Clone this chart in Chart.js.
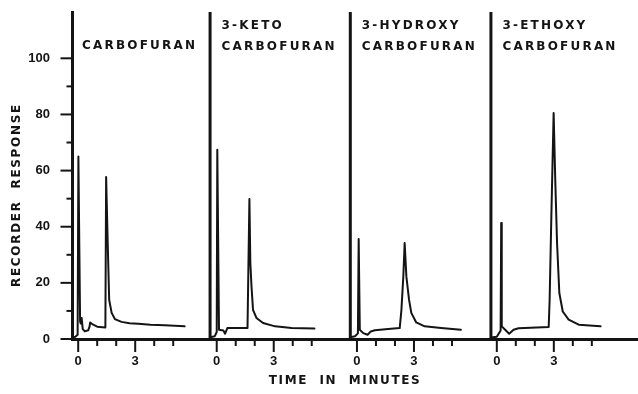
<!DOCTYPE html>
<html>
<head>
<meta charset="utf-8">
<script src="https://cdn.jsdelivr.net/npm/chart.js@4.4.1/dist/chart.umd.min.js"></script>
<style>
    html, body { margin: 0; padding: 0; background: #fff; }
    #wadah { width: 638px; height: 394px; }
</style>
</head>
<body>
<div id="wadah"><canvas id="grafik"></canvas></div>
<script>
// judul tiap kromatogram
const panelNames = [
    ["CARBOFURAN"],
    ["3-KETO", "CARBOFURAN"],
    ["3-HYDROXY", "CARBOFURAN"],
    ["3-ETHOXY", "CARBOFURAN"],
];

// menit ke-0 tiap run pada sumbu waktu bersama
const panelStart = [0, 7.29, 14.67, 22.03];
// garis pena sebelum injeksi (menit lokal) dan puncaknya yang keluar skala
const penReturn = [-0.3, -0.35, -0.35, -0.31];
const penTop = 120;

const carbofuranTime = [-0.3, -0.15, -0.03, 0.01, 0.1, 0.13, 0.18, 0.24, 0.35, 0.53, 0.6, 0.63, 0.79, 1.0, 1.43, 1.47, 1.55, 1.63, 1.76, 1.93, 2.28, 2.7, 3.16, 3.8, 4.56, 5.6];
const carbofuranResponse = [0.6, 0.8, 1.5, 65, 6.3, 5.5, 7.5, 3.5, 2.7, 3.1, 4.5, 5.9, 5.1, 4.4, 4.1, 57.7, 35, 14, 9.3, 7.1, 6.1, 5.6, 5.4, 5.1, 4.9, 4.5];

const ketoTime = [-0.35, -0.1, 0.0, 0.03, 0.12, 0.35, 0.44, 0.56, 1.0, 1.62, 1.72, 1.77, 1.83, 1.91, 2.09, 2.44, 3.07, 3.94, 5.14];
const ketoResponse = [0.6, 1.0, 2.5, 67.4, 3.3, 3.0, 1.9, 3.9, 3.9, 3.9, 49.9, 27, 18.7, 10.4, 7.5, 5.7, 4.5, 3.9, 3.7];

const hydroxyTime = [-0.35, -0.1, 0.05, 0.09, 0.15, 0.33, 0.56, 0.73, 0.94, 1.64, 2.25, 2.34, 2.44, 2.51, 2.6, 2.74, 2.86, 3.12, 3.56, 4.43, 5.47];
const hydroxyResponse = [0.6, 1.0, 2.0, 35.6, 3.3, 2.1, 1.5, 2.7, 3.1, 3.6, 3.9, 10.4, 22.3, 34.2, 22.3, 14, 9.3, 5.9, 4.5, 3.9, 3.3];

const ethoxyTime = [-0.31, 0.0, 0.2, 0.23, 0.26, 0.44, 0.65, 0.88, 1.14, 2.73, 2.78, 2.87, 2.99, 3.08, 3.17, 3.29, 3.47, 3.78, 4.31, 5.46];
const ethoxyResponse = [0.5, 0.8, 3.0, 41.3, 4.5, 3.3, 1.9, 3.3, 3.8, 4.3, 14, 43.7, 80.5, 55.6, 34.2, 16.4, 9.8, 6.9, 5.1, 4.5];

// label sumbu
const xTickMinutes = [0, 1, 2, 3, 4, 5];
const xTickLabels = ["0", "", "", "3", "", ""];
const yTicks = [0, 10, 20, 30, 40, 50, 60, 70, 80, 90, 100];
const yTitle = "RECORDER  RESPONSE";
const xTitle = "TIME  IN  MINUTES";

const tinta = "#141414";
const hurufJudul = "bold 12px 'DejaVu Sans', sans-serif";
const hurufAngka = { family: "'Liberation Sans', Arial, sans-serif", size: 13, weight: "bold" };

const semuaWaktu = [carbofuranTime, ketoTime, hydroxyTime, ethoxyTime];
const semuaRespon = [carbofuranResponse, ketoResponse, hydroxyResponse, ethoxyResponse];

const datasets = [];
semuaWaktu.forEach((waktu, i) => {
    datasets.push({
        data: [
            { x: panelStart[i] + penReturn[i], y: 0 },
            { x: panelStart[i] + penReturn[i], y: penTop },
        ],
        borderColor: tinta,
        borderWidth: 3,
    });
    datasets.push({
        data: waktu.map((t, k) => ({ x: panelStart[i] + t, y: semuaRespon[i][k] })),
        borderColor: tinta,
        borderWidth: 2,
    });
});

const tandaSumbu = {
    id: "tandaSumbu",
    afterDraw(chart) {
        const { ctx, chartArea, scales } = chart;
        const garis = (x1, y1, x2, y2) => {
            ctx.beginPath();
            ctx.moveTo(x1, y1);
            ctx.lineTo(x2, y2);
            ctx.stroke();
        };

        ctx.save();
        ctx.strokeStyle = tinta;
        ctx.lineWidth = 2;

        scales.y.ticks.forEach((tick) => {
            const py = scales.y.getPixelForValue(tick.value);
            const panjang = tick.value % 20 === 0 ? 12 : 6;
            garis(chartArea.left - panjang, py, chartArea.left, py);
        });

        scales.x.ticks.forEach((tick, i) => {
            const px = scales.x.getPixelForValue(tick.value);
            const panjang = xTickLabels[i % xTickLabels.length] ? 13 : 7;
            garis(px, chartArea.bottom, px, chartArea.bottom + panjang);
        });

        // nama senyawa di tiap panel
        ctx.fillStyle = tinta;
        ctx.font = hurufJudul;
        ctx.letterSpacing = "2.2px";
        ctx.textBaseline = "middle";
        ctx.textAlign = "left";
        panelNames.forEach((baris, i) => {
            const px = scales.x.getPixelForValue(panelStart[i] + penReturn[i]) + (i === 0 ? 9.5 : 11.5);
            const mulai = baris.length === 1 ? 46 : 26;
            baris.forEach((teks, k) => {
                ctx.fillText(teks, px, mulai + k * 20.5);
            });
        });

        // judul sumbu
        ctx.textAlign = "center";
        ctx.letterSpacing = "1.6px";
        ctx.fillText(xTitle, 345, 381);

        ctx.save();
        ctx.translate(17, 195);
        ctx.rotate(-Math.PI / 2);
        ctx.letterSpacing = "1.7px";
        ctx.fillText(yTitle, 0, 0);
        ctx.restore();

        ctx.restore();
    },
};

new Chart(document.getElementById("grafik"), {
    type: "line",
    data: { datasets: datasets },
    options: {
        responsive: true,
        maintainAspectRatio: false,
        animation: false,
        events: [],
        layout: { padding: { top: 12, right: 0, bottom: 0, left: 0 } },
        elements: {
            point: { radius: 0 },
            line: { tension: 0, borderJoinStyle: "round", borderCapStyle: "round" },
        },
        plugins: {
            legend: { display: false },
            tooltip: { enabled: false },
        },
        scales: {
            x: {
                type: "linear",
                min: -0.3,
                max: 29.46,
                afterFit: (scale) => {
                    scale.height = 55;
                    scale.paddingLeft = 0;
                    scale.paddingRight = 0;
                },
                afterBuildTicks: (scale) => {
                    scale.ticks = panelStart.flatMap((awal) =>
                        xTickMinutes.map((m) => ({ value: awal + m })),
                    );
                },
                grid: { display: false, drawTicks: false },
                border: { display: true, width: 3, color: tinta },
                ticks: {
                    autoSkip: false,
                    maxRotation: 0,
                    padding: 15,
                    color: tinta,
                    font: hurufAngka,
                    callback: (value, index) => xTickLabels[index % xTickLabels.length],
                },
            },
            y: {
                min: 0,
                max: 116.5,
                afterFit: (scale) => {
                    scale.width = 72.5;
                    scale.paddingTop = 0;
                    scale.paddingBottom = 0;
                },
                afterBuildTicks: (scale) => {
                    scale.ticks = yTicks.map((v) => ({ value: v }));
                },
                grid: { display: false, drawTicks: false },
                border: { display: true, width: 3, color: tinta },
                ticks: {
                    padding: 22.5,
                    color: tinta,
                    font: hurufAngka,
                    callback: (value) => (value % 20 === 0 ? String(value) : ""),
                },
            },
        },
    },
    plugins: [tandaSumbu],
});
</script>
</body>
</html>
